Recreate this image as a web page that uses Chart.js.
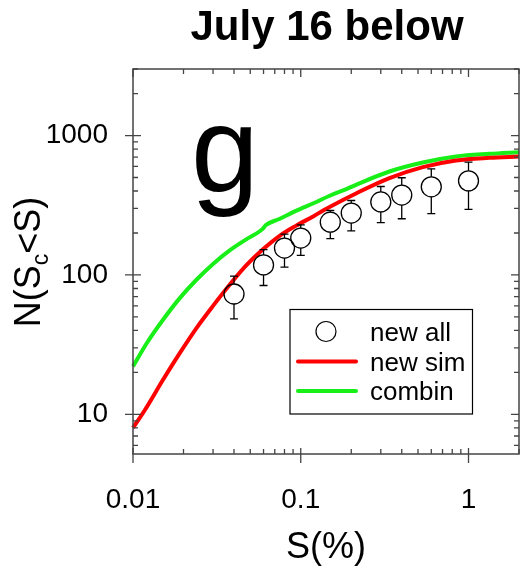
<!DOCTYPE html>
<html>
<head>
<meta charset="utf-8">
<script src="https://cdn.jsdelivr.net/npm/chart.js@4.4.1/dist/chart.umd.min.js"></script>
<style>
    body { margin: 0; background: #fff; }
    canvas { display: block; }
</style>
</head>
<body>
<canvas id="myChart" width="520" height="571"></canvas>
<script>
"use strict"

// observed points with error bars
let obsX = [0.04, 0.06, 0.08, 0.1, 0.15, 0.2, 0.3, 0.4, 0.6, 1]
let obsY = [73, 118, 156, 184, 239, 278, 334, 374, 429, 473]
let obsHigh = [98, 152, 196, 229, 290, 342, 431, 498, 577, 645]
let obsLow = [48.5, 84, 114, 138, 182, 207, 237, 253, 275, 295]

// "new sim" curve
let simX = [0.01, 0.0118, 0.0151, 0.019, 0.0239, 0.03, 0.0377, 0.0473, 0.0593, 0.0745, 0.0935, 0.12, 0.136, 0.215, 0.338, 0.534, 0.842, 1.33, 2.0]
let simY = [8.0, 10.8, 17.7, 27.5, 41.6, 60, 85, 117, 152, 190, 225, 265, 290, 386, 495, 593, 662, 692, 707]

// "combin" curve
let combX = [0.01, 0.0121, 0.0151, 0.019, 0.0239, 0.03, 0.0377, 0.0473, 0.0593, 0.062, 0.0745, 0.0935, 0.12, 0.1487, 0.187, 0.215, 0.338, 0.534, 0.842, 1.33, 2.0]
let combY = [22.1, 32.5, 47.7, 68.2, 92.4, 120, 150, 180, 214, 228, 252, 288, 328, 370, 413, 445, 552, 640, 707, 739, 760]

let xTickValues = [0.01, 0.1, 1]
let xTickLabels = ["0.01", "0.1", "1"]
let yTickValues = [10, 100, 1000]
let yTickLabels = ["10", "100", "1000"]

let legendLabels = ["new all", "new sim", "combin"]
const FONT = "'Liberation Sans', Arial, Helvetica, sans-serif"
const RED = "#ff0000"
const GREEN = "#18ee18"

function toPoints(xs, ys) {
    let pts = []
    for (let i = 0; i < xs.length; i++) {
        pts.push({ x: xs[i], y: ys[i] })
    }
    return pts
}

// error bars, drawn from the edge of each circle
const errorBars = {
    id: "errorBars",
    afterDatasetsDraw(chart) {
        let ctx = chart.ctx
        let xs = chart.scales.x
        let ys = chart.scales.y
        let r = 10
        ctx.save()
        ctx.strokeStyle = "#000"
        ctx.lineWidth = 1.3
        for (let i = 0; i < obsX.length; i++) {
            let px = xs.getPixelForValue(obsX[i])
            let py = ys.getPixelForValue(obsY[i])
            let hi = ys.getPixelForValue(obsHigh[i])
            let lo = ys.getPixelForValue(obsLow[i])
            ctx.beginPath()
            ctx.moveTo(px, py - r)
            ctx.lineTo(px, hi)
            ctx.moveTo(px - 4, hi)
            ctx.lineTo(px + 4, hi)
            ctx.moveTo(px, py + r)
            ctx.lineTo(px, lo)
            ctx.moveTo(px - 4, lo)
            ctx.lineTo(px + 4, lo)
            ctx.stroke()
        }
        ctx.restore()
    }
}

// frame, log ticks, titles, legend and panel letter
const decorations = {
    id: "decorations",
    afterDraw(chart) {
        let ctx = chart.ctx
        let area = chart.chartArea
        let xs = chart.scales.x
        let ys = chart.scales.y
        ctx.save()

        ctx.strokeStyle = "#444"
        ctx.lineWidth = 1.5
        ctx.strokeRect(area.left, area.top, area.right - area.left, area.bottom - area.top)

        ctx.beginPath()
        // x ticks
        for (let d = -2; d <= 0; d++) {
            for (let m = 1; m <= 9; m++) {
                let v = m * Math.pow(10, d)
                if (v < xs.min || v > xs.max) continue
                let px = xs.getPixelForValue(v)
                if (m == 1) {
                    ctx.moveTo(px, area.bottom - 6)
                    ctx.lineTo(px, area.bottom + 9)
                    ctx.moveTo(px, area.top)
                    ctx.lineTo(px, area.top + 8)
                } else {
                    ctx.moveTo(px, area.bottom - 5)
                    ctx.lineTo(px, area.bottom)
                    ctx.moveTo(px, area.top)
                    ctx.lineTo(px, area.top + 5)
                }
            }
        }
        // y ticks
        for (let d = 0; d <= 3; d++) {
            for (let m = 1; m <= 9; m++) {
                let v = m * Math.pow(10, d)
                if (v < ys.min || v > ys.max) continue
                let py = ys.getPixelForValue(v)
                if (m == 1) {
                    ctx.moveTo(area.left - 8, py)
                    ctx.lineTo(area.left + 8, py)
                    ctx.moveTo(area.right - 8, py)
                    ctx.lineTo(area.right, py)
                } else {
                    ctx.moveTo(area.left, py)
                    ctx.lineTo(area.left + 5, py)
                    ctx.moveTo(area.right - 5, py)
                    ctx.lineTo(area.right, py)
                }
            }
        }
        ctx.lineWidth = 1.3
        ctx.stroke()

        ctx.fillStyle = "#000"
        ctx.textBaseline = "alphabetic"

        // title
        ctx.font = "bold 42px " + FONT
        ctx.textAlign = "center"
        ctx.fillText("July 16 below", 327, 40)

        // x title
        ctx.font = "36px " + FONT
        ctx.fillText("S(%)", 326, 558)

        // y title with subscript
        ctx.save()
        ctx.translate(39.5, 262)
        ctx.rotate(-Math.PI / 2)
        ctx.textAlign = "left"
        let big = "36px " + FONT
        let small = "23px " + FONT
        ctx.font = big
        let w1 = ctx.measureText("N(S").width
        let w3 = ctx.measureText("<S)").width
        ctx.font = small
        let w2 = ctx.measureText("c").width
        let x0 = -(w1 + w2 + w3) / 2
        ctx.font = big
        ctx.fillText("N(S", x0, 0)
        ctx.font = small
        ctx.fillText("c", x0 + w1, 8)
        ctx.font = big
        ctx.fillText("<S)", x0 + w1 + w2, 0)
        ctx.restore()

        // panel letter
        ctx.font = "122px " + FONT
        ctx.textAlign = "left"
        ctx.fillText("g", 191, 192)

        // legend
        ctx.strokeStyle = "#000"
        ctx.lineWidth = 1.2
        ctx.strokeRect(290, 309.5, 182.5, 104.5)
        ctx.beginPath()
        ctx.arc(326, 331.5, 10, 0, Math.PI * 2)
        ctx.stroke()
        ctx.lineCap = "round"
        ctx.lineWidth = 4
        ctx.strokeStyle = RED
        ctx.beginPath()
        ctx.moveTo(298, 361.5)
        ctx.lineTo(356, 361.5)
        ctx.stroke()
        ctx.strokeStyle = GREEN
        ctx.beginPath()
        ctx.moveTo(298, 391)
        ctx.lineTo(356, 391)
        ctx.stroke()
        ctx.font = "26px " + FONT
        ctx.fillText(legendLabels[0], 370, 341)
        ctx.fillText(legendLabels[1], 370, 370.5)
        ctx.fillText(legendLabels[2], 370, 400)

        ctx.restore()
    }
}

let ctx = document.getElementById("myChart").getContext("2d")

let myChart = new Chart(ctx, {
    type: "line",
    data: {
        datasets: [{
            label: legendLabels[0],
            data: toPoints(obsX, obsY),
            showLine: false,
            pointRadius: 10,
            pointBorderWidth: 1.3,
            pointBorderColor: "#000",
            pointBackgroundColor: "rgba(0,0,0,0)"
        }, {
            label: legendLabels[1],
            data: toPoints(simX, simY),
            borderColor: RED,
            borderWidth: 4,
            pointRadius: 0,
            cubicInterpolationMode: "monotone"
        }, {
            label: legendLabels[2],
            data: toPoints(combX, combY),
            borderColor: GREEN,
            borderWidth: 4,
            pointRadius: 0,
            cubicInterpolationMode: "monotone"
        }]
    },
    options: {
        responsive: false,
        animation: false,
        clip: false,
        layout: {
            autoPadding: false,
            padding: { top: 69, right: 1, left: 0, bottom: 0 }
        },
        plugins: {
            legend: { display: false },
            tooltip: { enabled: false },
            title: { display: false }
        },
        scales: {
            x: {
                type: "logarithmic",
                position: "bottom",
                min: 0.01,
                max: 2,
                grid: { display: false, drawTicks: false },
                border: { display: false },
                afterBuildTicks: function (scale) {
                    scale.ticks = xTickValues.map(v => ({ value: v }))
                },
                afterFit: function (scale) {
                    scale.height = 117
                    scale.paddingLeft = 0
                    scale.paddingRight = 0
                },
                ticks: {
                    autoSkip: false,
                    maxRotation: 0,
                    minRotation: 0,
                    padding: 29,
                    color: "#000",
                    font: { size: 28, family: FONT },
                    callback: function (value, index) {
                        return xTickLabels[index]
                    }
                }
            },
            y: {
                type: "logarithmic",
                position: "left",
                min: 5.2,
                max: 3000,
                grid: { display: false, drawTicks: false },
                border: { display: false },
                afterBuildTicks: function (scale) {
                    scale.ticks = yTickValues.map(v => ({ value: v }))
                },
                afterFit: function (scale) {
                    scale.width = 133
                    scale.paddingTop = 0
                    scale.paddingBottom = 0
                },
                ticks: {
                    autoSkip: false,
                    padding: 25,
                    color: "#000",
                    font: { size: 28, family: FONT },
                    callback: function (value, index) {
                        return yTickLabels[index]
                    }
                }
            }
        }
    },
    plugins: [errorBars, decorations]
})
</script>
</body>
</html>
